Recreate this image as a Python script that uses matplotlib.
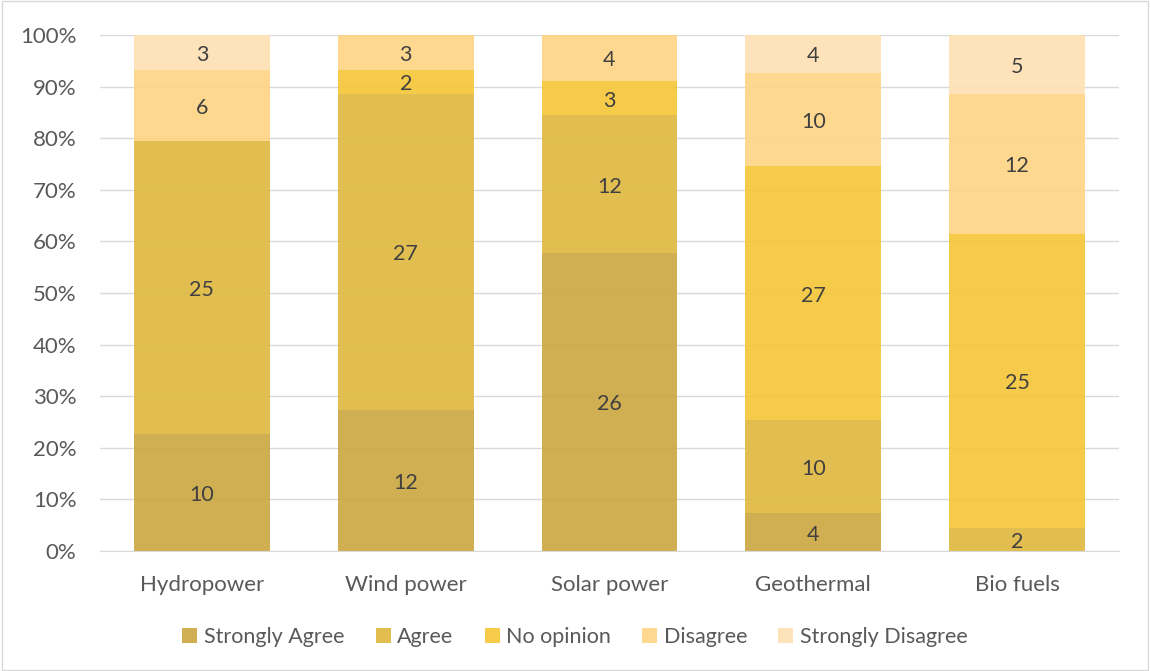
import matplotlib
matplotlib.use("Agg")
import matplotlib.pyplot as plt
import numpy as np
from matplotlib.patches import Rectangle

categories = ["Hydropower", "Wind power", "Solar power", "Geothermal", "Bio fuels"]
responses = ["Strongly Agree", "Agree", "No opinion", "Disagree", "Strongly Disagree"]

# response counts per category
strongly_agree = [10, 12, 26, 4, 0]
agree = [25, 27, 12, 10, 2]
no_opinion = [0, 2, 3, 27, 25]
disagree = [6, 3, 4, 10, 12]
strongly_disagree = [3, 0, 0, 4, 5]

colors = ["#cca843", "#e0b942", "#f5c739", "#fed585", "#fee1b4"]

plt.rcParams["font.family"] = ["Lato", "DejaVu Sans"]
text_color = "#595959"

counts = np.array([strongly_agree, agree, no_opinion, disagree, strongly_disagree], dtype=float)
shares = counts / counts.sum(axis=0)

fig = plt.figure(figsize=(11.5, 6.71), dpi=100)
ax = fig.add_axes([100 / 1150, 1 - 551 / 671, 1019 / 1150, 516 / 671])

x = np.arange(len(categories))
bottom = np.zeros(len(categories))
handles = []
for i, label in enumerate(responses):
    bars = ax.bar(x, shares[i], 0.667, bottom=bottom, color=colors[i], alpha=0.92,
                  label=label, zorder=2, linewidth=0)
    handles.append(bars)
    for j in range(len(categories)):
        if counts[i, j] > 0:
            ax.annotate(f"{int(counts[i, j])}", (x[j], bottom[j] + shares[i, j] / 2),
                        xytext=(0, -2.5), textcoords="offset pixels",
                        ha="center", va="center", fontsize=15.5, color="#404040", zorder=3)
    bottom += shares[i]

ax.set_xlim(-0.5, len(categories) - 0.5)
ax.set_ylim(0, 1)
ax.set_yticks(np.arange(0, 1.01, 0.1))
ax.set_yticklabels([f"{int(round(v * 100))}%" for v in np.arange(0, 1.01, 0.1)])
ax.set_xticks(x)
ax.set_xticklabels(categories)
ax.yaxis.grid(True, color="#d9d9d9", linewidth=1, zorder=0)
ax.set_axisbelow(True)
for side in ["top", "right", "left"]:
    ax.spines[side].set_visible(False)
ax.spines["bottom"].set_color("#d9d9d9")
ax.tick_params(axis="both", length=0, labelsize=16, labelcolor=text_color)
ax.tick_params(axis="x", pad=17)
ax.tick_params(axis="y", pad=17)

fig.legend(handles=handles, labels=responses, loc="center", bbox_to_anchor=(0.5, 1 - 637 / 671),
           ncol=5, frameon=False, fontsize=15.5, labelcolor=text_color,
           handlelength=0.7, handleheight=0.7, handletextpad=0.3, columnspacing=1.45)

fig.patches.append(Rectangle((0.002, 0.002), 0.996, 0.996, transform=fig.transFigure,
                             fill=False, edgecolor="#d9d9d9", linewidth=1))

fig.savefig("out.png", dpi=100)
plt.close(fig)
